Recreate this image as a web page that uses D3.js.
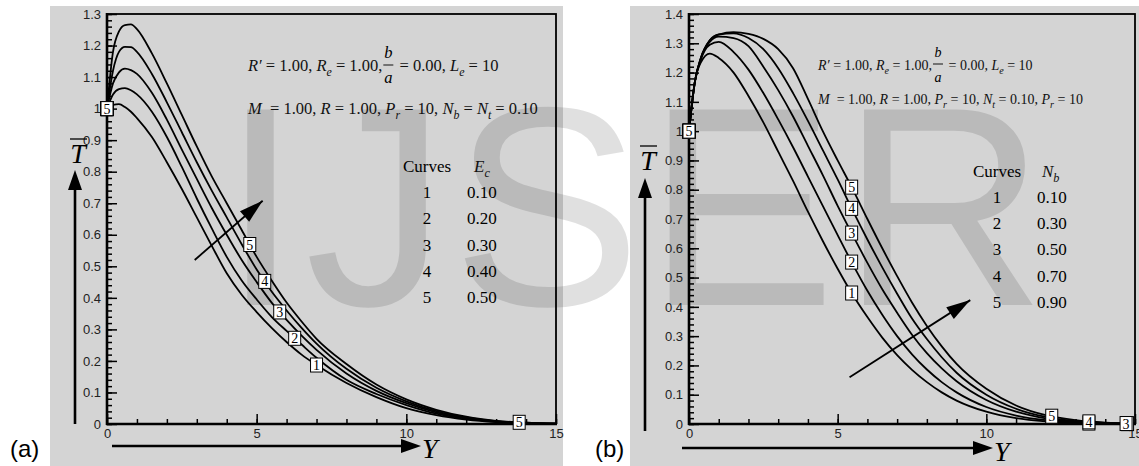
<!DOCTYPE html>
<html>
<head>
<meta charset="utf-8">
<script src="https://cdnjs.cloudflare.com/ajax/libs/d3/7.8.5/d3.min.js"></script>
<style>
body { margin: 0; background: #fff; }
svg { display: block; }
</style>
</head>
<body>
<script>
// ---- data ----
var curveLabels = ["1", "2", "3", "4", "5"];

// panel (a): effect of Ec
var ecValues = ["0.10", "0.20", "0.30", "0.40", "0.50"];
var gridA = [0, 0.2, 0.4, 0.6, 0.8, 1, 1.5, 2, 2.5, 3, 3.5, 4, 4.5, 5, 5.5, 6, 6.5, 7, 8, 9, 10, 11, 12, 13, 14, 15];
var ecT1 = [1, 1.012, 1.014, 1.005, 0.99, 0.97, 0.91, 0.83, 0.745, 0.655, 0.565, 0.478, 0.41, 0.355, 0.305, 0.26, 0.22, 0.187, 0.13, 0.085, 0.05, 0.028, 0.014, 0.006, 0.002, 0.001];
var ecT2 = [1, 1.045, 1.062, 1.065, 1.058, 1.045, 0.99, 0.91, 0.815, 0.715, 0.62, 0.53, 0.455, 0.395, 0.34, 0.295, 0.252, 0.21, 0.14, 0.095, 0.06, 0.033, 0.017, 0.007, 0.003, 0.001];
var ecT3 = [1, 1.08, 1.115, 1.127, 1.122, 1.11, 1.05, 0.965, 0.87, 0.777, 0.685, 0.6, 0.52, 0.45, 0.385, 0.33, 0.28, 0.235, 0.16, 0.105, 0.066, 0.037, 0.019, 0.008, 0.003, 0.001];
var ecT4 = [1, 1.12, 1.18, 1.196, 1.195, 1.18, 1.11, 1.02, 0.925, 0.83, 0.74, 0.655, 0.57, 0.49, 0.42, 0.36, 0.305, 0.255, 0.175, 0.115, 0.072, 0.041, 0.021, 0.009, 0.004, 0.001];
var ecT5 = [1, 1.18, 1.245, 1.265, 1.267, 1.252, 1.175, 1.08, 0.98, 0.88, 0.785, 0.70, 0.615, 0.53, 0.455, 0.385, 0.325, 0.27, 0.19, 0.125, 0.078, 0.045, 0.023, 0.01, 0.004, 0.001];
var markersA = [[0, 7.0], [0, 6.27], [0, 5.77], [0, 5.27], [0, 4.77, 13.77]];
var yTicksA = ["0", "0.1", "0.2", "0.3", "0.4", "0.5", "0.6", "0.7", "0.8", "0.9", "1", "1.1", "1.2", "1.3"];

// panel (b): effect of Nb
var nbValues = ["0.10", "0.30", "0.50", "0.70", "0.90"];
var gridB = [0, 0.2, 0.4, 0.7, 1, 1.5, 2, 2.5, 3, 3.5, 4, 4.5, 5, 5.5, 6, 6.5, 7, 7.5, 8, 8.5, 9, 10, 11, 12, 13, 14, 15];
var nbT1 = [1, 1.17, 1.235, 1.265, 1.25, 1.2, 1.12, 1.03, 0.93, 0.83, 0.725, 0.625, 0.53, 0.442, 0.365, 0.295, 0.235, 0.185, 0.143, 0.108, 0.08, 0.042, 0.02, 0.009, 0.004, 0.002, 0.001];
var nbT2 = [1, 1.17, 1.245, 1.295, 1.305, 1.27, 1.21, 1.13, 1.04, 0.945, 0.845, 0.745, 0.645, 0.547, 0.455, 0.373, 0.30, 0.238, 0.186, 0.143, 0.108, 0.058, 0.029, 0.013, 0.005, 0.002, 0.001];
var nbT3 = [1, 1.17, 1.25, 1.305, 1.323, 1.318, 1.29, 1.22, 1.14, 1.05, 0.95, 0.85, 0.745, 0.646, 0.55, 0.46, 0.38, 0.305, 0.242, 0.19, 0.146, 0.082, 0.042, 0.019, 0.008, 0.003, 0.001];
var nbT4 = [1, 1.17, 1.25, 1.31, 1.33, 1.334, 1.318, 1.28, 1.215, 1.13, 1.035, 0.935, 0.835, 0.73, 0.63, 0.535, 0.445, 0.36, 0.29, 0.228, 0.175, 0.10, 0.052, 0.024, 0.01, 0.004, 0.001];
var nbT5 = [1, 1.17, 1.25, 1.31, 1.33, 1.338, 1.332, 1.315, 1.28, 1.215, 1.11, 1.0, 0.9, 0.803, 0.70, 0.60, 0.505, 0.415, 0.335, 0.265, 0.205, 0.12, 0.063, 0.03, 0.013, 0.005, 0.002];
var markersB = [[0, 5.47, 13.45], [0, 5.47, 14.75], [0, 5.47, 14.7], [0, 5.47, 13.45], [0, 5.47, 12.2]];
var yTicksB = ["0", "0.1", "0.2", "0.3", "0.4", "0.5", "0.6", "0.7", "0.8", "0.9", "1", "1.1", "1.2", "1.3", "1.4"];

var xTicks = ["0", "5", "10", "15"];

var SERIF = "'Liberation Serif', 'Times New Roman', serif";
var SANS = "'Liberation Sans', Arial, Helvetica, sans-serif";

var width = 1139, height = 466;
var svg = d3.select("body").append("svg")
    .attr("width", width)
    .attr("height", height);

//gray plot backgrounds
svg.append("rect").attr("x", 50).attr("y", 6).attr("width", 513).attr("height", 460).attr("fill", "#d4d4d4");
svg.append("rect").attr("x", 630).attr("y", 6).attr("width", 509).attr("height", 460).attr("fill", "#d4d4d4");

//publisher watermark behind the plots
svg.append("text")
    .attr("x", 221).attr("y", 305)
    .attr("font-family", SANS).attr("font-size", 284)
    .attr("letter-spacing", 5)
    .attr("fill", "#000").attr("fill-opacity", 0.12)
    .text("IJSER");

//panel letters
svg.append("text").attr("x", 10).attr("y", 457).attr("font-family", SANS).attr("font-size", 24).text("(a)");
svg.append("text").attr("x", 595).attr("y", 457).attr("font-family", SANS).attr("font-size", 24).text("(b)");

function interp(grid, vals, v) {
    var i = d3.bisectRight(grid, v) - 1;
    if (i < 0) return vals[0];
    if (i >= grid.length - 1) return vals[vals.length - 1];
    var f = (v - grid[i]) / (grid[i + 1] - grid[i]);
    return vals[i] + f * (vals[i + 1] - vals[i]);
}

//text with italic / subscript pieces
function mathText(parent, x, yb, size, segs) {
    var t = parent.append("text")
        .attr("x", x).attr("y", yb)
        .attr("xml:space", "preserve")
        .attr("font-family", SERIF).attr("font-size", size).attr("fill", "#111");
    var shift = 0;
    segs.forEach(function (s) {
        var want = s[2] ? Math.round(size * 0.3) : 0;
        var sp = t.append("tspan").attr("dy", want - shift).text(s[0]);
        if (s[1]) sp.attr("font-style", "italic");
        if (s[2]) sp.attr("font-size", size * 0.72);
        shift = want;
    });
    return t;
}

function arrowHead(g, x1, y1, x2, y2, len, half) {
    var a = Math.atan2(y2 - y1, x2 - x1);
    var bx = x2 - len * Math.cos(a), by = y2 - len * Math.sin(a);
    var px = -Math.sin(a) * half, py = Math.cos(a) * half;
    g.append("path")
        .attr("d", "M" + x2 + "," + y2 + "L" + (bx + px) + "," + (by + py) + "L" + (bx - px) + "," + (by - py) + "Z")
        .attr("fill", "#000");
}

function drawPanel(cfg) {
    var x = d3.scaleLinear().domain([0, 15]).range([cfg.left, cfg.right]);
    var y = d3.scaleLinear().domain([0, cfg.yMax]).range([cfg.bottom, cfg.top]);
    var g = svg.append("g");

    //minor ticks, pointing inward
    var yMinor = d3.range(0, cfg.yMax + 0.001, 0.02);
    var xMinor = d3.range(0, 15.001, 1);
    g.append("g").attr("transform", "translate(" + cfg.left + ",0)")
        .call(d3.axisLeft(y).tickValues(yMinor).tickSize(-5).tickFormat(""));
    g.append("g").attr("transform", "translate(0," + cfg.bottom + ")")
        .call(d3.axisBottom(x).tickValues(xMinor).tickSize(-5).tickFormat(""));

    //major ticks with labels
    g.append("g").attr("class", "yax").attr("transform", "translate(" + cfg.left + ",0)")
        .call(d3.axisLeft(y).tickValues(cfg.yTicks.map(Number)).tickSize(-10).tickPadding(6)
            .tickFormat(function (d, i) { return cfg.yTicks[i]; }));
    g.append("g").attr("class", "xax").attr("transform", "translate(0," + cfg.bottom + ")")
        .call(d3.axisBottom(x).tickValues(xTicks.map(Number)).tickSize(-10).tickPadding(5)
            .tickFormat(function (d, i) { return xTicks[i]; }));

    g.selectAll(".domain").remove();
    g.selectAll(".tick line").attr("stroke", "#000").attr("stroke-width", 1.5);
    g.selectAll(".tick text").attr("font-family", SANS).attr("font-size", 13).attr("fill", "#222");

    //frame
    g.append("rect")
        .attr("x", cfg.left).attr("y", cfg.top)
        .attr("width", cfg.right - cfg.left).attr("height", cfg.bottom - cfg.top)
        .attr("fill", "none").attr("stroke", "#000").attr("stroke-width", 1.8);
    g.append("line").attr("x1", cfg.left).attr("x2", cfg.left).attr("y1", cfg.top - 1).attr("y2", cfg.bottom + 1)
        .attr("stroke", "#000").attr("stroke-width", 2.6);
    g.append("line").attr("x1", cfg.left - 1).attr("x2", cfg.right + 1).attr("y1", cfg.bottom).attr("y2", cfg.bottom)
        .attr("stroke", "#000").attr("stroke-width", 2.6);

    //curves
    var line = d3.line()
        .x(function (d) { return x(d[0]); })
        .y(function (d) { return y(d[1]); })
        .curve(d3.curveMonotoneX);
    cfg.curves.forEach(function (vals) {
        g.append("path")
            .datum(cfg.grid.map(function (v, i) { return [v, vals[i]]; }))
            .attr("d", line)
            .attr("fill", "none")
            .attr("stroke", "#000")
            .attr("stroke-width", 1.8);
    });

    //boxed curve numbers
    cfg.curves.forEach(function (vals, ci) {
        cfg.markers[ci].forEach(function (mv) {
            var px = x(mv), py = y(interp(cfg.grid, vals, mv));
            g.append("rect")
                .attr("x", px - 6).attr("y", py - 7)
                .attr("width", 12).attr("height", 14)
                .attr("fill", "#fff").attr("stroke", "#000").attr("stroke-width", 1);
            g.append("text")
                .attr("x", px).attr("y", py + 5)
                .attr("text-anchor", "middle")
                .attr("font-family", SERIF).attr("font-size", 14)
                .text(curveLabels[ci]);
        });
    });

    //direction arrow
    var a = cfg.arrow;
    var ax1 = x(a[0]), ay1 = y(a[1]), ax2 = x(a[2]), ay2 = y(a[3]);
    g.append("line").attr("x1", ax1).attr("y1", ay1).attr("x2", ax2).attr("y2", ay2)
        .attr("stroke", "#000").attr("stroke-width", 1.8);
    arrowHead(g, ax1, ay1, ax2, ay2, 24, 7);

    //axis title arrows
    var ta = cfg.tArrow;
    g.append("line").attr("x1", ta[0]).attr("x2", ta[0]).attr("y1", ta[1] + 10).attr("y2", ta[2])
        .attr("stroke", "#000").attr("stroke-width", 2.6);
    arrowHead(g, ta[0], ta[2], ta[0], ta[1], 20, 7);
    g.append("text").attr("x", ta[0] + 3).attr("y", ta[3])
        .attr("text-anchor", "middle").attr("font-family", SERIF)
        .attr("font-style", "italic").attr("font-size", 28).text("T");
    g.append("line").attr("x1", ta[0] - 5).attr("x2", ta[0] + 12).attr("y1", ta[3] - 24).attr("y2", ta[3] - 24)
        .attr("stroke", "#000").attr("stroke-width", 1.3);

    var ya = cfg.yArrow;
    g.append("line").attr("x1", ya[0]).attr("x2", ya[1] - 10).attr("y1", ya[2]).attr("y2", ya[2])
        .attr("stroke", "#000").attr("stroke-width", 2.6);
    arrowHead(g, ya[0], ya[2], ya[1], ya[2], 20, 7);
    g.append("text").attr("x", ya[1] + 1).attr("y", ya[3])
        .attr("font-family", SERIF).attr("font-style", "italic").attr("font-size", 28).text("Y");

    //parameter lines
    var L = cfg.legend, fs = L.size;
    var p1 = mathText(g, L.x, L.y1, fs, [["R\u2032", 1], [" = 1.00, "], ["R", 1], ["e", 1, 1], [" = 1.00,"]]);
    var fx = L.x + p1.node().getComputedTextLength() + 1;
    g.append("text").attr("x", fx + 5).attr("y", L.y1 - 13).attr("text-anchor", "middle")
        .attr("font-family", SERIF).attr("font-style", "italic").attr("font-size", fs).text("b");
    g.append("line").attr("x1", fx).attr("x2", fx + 10).attr("y1", L.y1 - 6).attr("y2", L.y1 - 6)
        .attr("stroke", "#111").attr("stroke-width", 1);
    g.append("text").attr("x", fx + 5).attr("y", L.y1 + 12).attr("text-anchor", "middle")
        .attr("font-family", SERIF).attr("font-style", "italic").attr("font-size", fs).text("a");
    mathText(g, fx + 12, L.y1, fs, [[" = 0.00, "], ["L", 1], ["e", 1, 1], [" = 10"]]);
    mathText(g, L.x, L.y2, fs, L.line2);

    //curve table
    var T = cfg.table;
    g.append("text").attr("x", T.cx).attr("y", T.hy).attr("font-family", SERIF).attr("font-size", 17).text("Curves");
    mathText(g, T.sx, T.hy, 17, T.sym);
    curveLabels.forEach(function (c, i) {
        g.append("text").attr("x", T.nx).attr("y", T.ry + i * T.step).attr("text-anchor", "middle")
            .attr("font-family", SERIF).attr("font-size", 17).text(c);
        g.append("text").attr("x", T.vx).attr("y", T.ry + i * T.step)
            .attr("font-family", SERIF).attr("font-size", 17).text(T.values[i]);
    });
}

drawPanel({
    left: 107, right: 556, top: 14, bottom: 424, yMax: 1.3,
    yTicks: yTicksA, grid: gridA,
    curves: [ecT1, ecT2, ecT3, ecT4, ecT5],
    markers: markersA,
    arrow: [2.93, 0.52, 5.2, 0.708],
    tArrow: [75, 170, 424, 163],
    yArrow: [112, 421, 446, 458],
    legend: {
        x: 248, y1: 71, y2: 114, size: 16.5,
        line2: [["M", 1], ["  = 1.00, "], ["R", 1], [" = 1.00, "], ["P", 1], ["r", 1, 1], [" = 10, "], ["N", 1], ["b", 1, 1], [" = "], ["N", 1], ["t", 1, 1], [" = 0.10"]]
    },
    table: { cx: 403, sx: 474, hy: 172, nx: 427, vx: 467, ry: 198, step: 26.3, values: ecValues,
             sym: [["E", 1], ["c", 1, 1]] }
});

drawPanel({
    left: 689, right: 1135, top: 14, bottom: 424, yMax: 1.4,
    yTicks: yTicksB, grid: gridB,
    curves: [nbT1, nbT2, nbT3, nbT4, nbT5],
    markers: markersB,
    arrow: [5.4, 0.16, 9.46, 0.423],
    tArrow: [645, 178, 431, 170],
    yArrow: [682, 993, 448, 461],
    legend: {
        x: 818, y1: 70, y2: 104, size: 14,
        line2: [["M", 1], ["  = 1.00, "], ["R", 1], [" = 1.00, "], ["P", 1], ["r", 1, 1], [" = 10, "], ["N", 1], ["t", 1, 1], [" = 0.10, "], ["P", 1], ["r", 1, 1], [" = 10"]]
    },
    table: { cx: 973, sx: 1042, hy: 177, nx: 997, vx: 1037, ry: 203, step: 26.2, values: nbValues,
             sym: [["N", 1], ["b", 1, 1]] }
});
</script>
</body>
</html>
